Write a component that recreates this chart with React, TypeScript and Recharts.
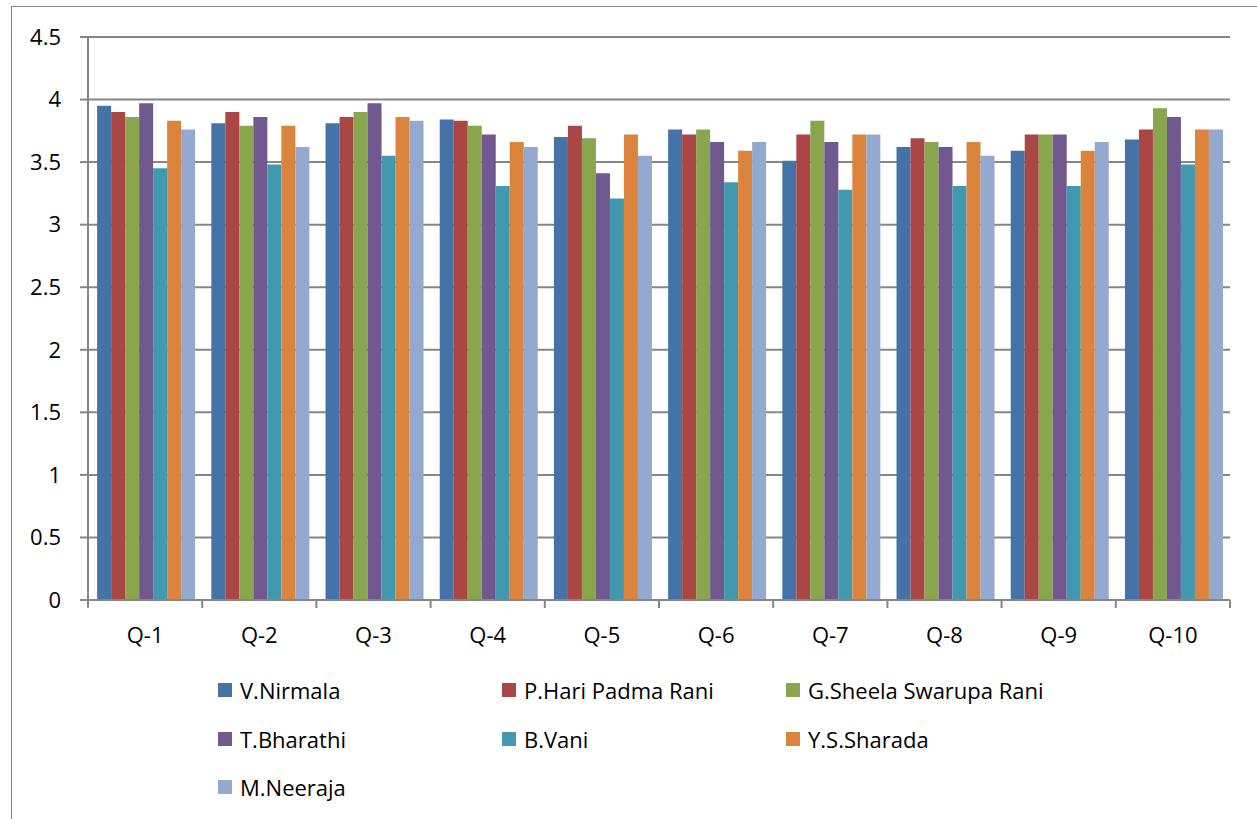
import React from 'react'
import { BarChart, Bar, XAxis, YAxis, CartesianGrid } from 'recharts'

const questions = ['Q-1', 'Q-2', 'Q-3', 'Q-4', 'Q-5', 'Q-6', 'Q-7', 'Q-8', 'Q-9', 'Q-10']

const nirmala = [3.95, 3.81, 3.81, 3.84, 3.7, 3.76, 3.51, 3.62, 3.59, 3.68]
const hariPadmaRani = [3.9, 3.9, 3.86, 3.83, 3.79, 3.72, 3.72, 3.69, 3.72, 3.76]
const sheelaSwarupaRani = [3.86, 3.79, 3.9, 3.79, 3.69, 3.76, 3.83, 3.66, 3.72, 3.93]
const bharathi = [3.97, 3.86, 3.97, 3.72, 3.41, 3.66, 3.66, 3.62, 3.72, 3.86]
const vani = [3.45, 3.48, 3.55, 3.31, 3.21, 3.34, 3.28, 3.31, 3.31, 3.48]
const sharada = [3.83, 3.79, 3.86, 3.66, 3.72, 3.59, 3.72, 3.66, 3.59, 3.76]
const neeraja = [3.76, 3.62, 3.83, 3.62, 3.55, 3.66, 3.72, 3.55, 3.66, 3.76]

const yTicks = [0, 0.5, 1, 1.5, 2, 2.5, 3, 3.5, 4, 4.5]

const series = [
  { key: 'nirmala', name: 'V.Nirmala', color: '#4572A7', values: nirmala },
  { key: 'hari', name: 'P.Hari Padma Rani', color: '#AA4643', values: hariPadmaRani },
  { key: 'sheela', name: 'G.Sheela Swarupa Rani', color: '#89A54E', values: sheelaSwarupaRani },
  { key: 'bharathi', name: 'T.Bharathi', color: '#71588F', values: bharathi },
  { key: 'vani', name: 'B.Vani', color: '#4198AF', values: vani },
  { key: 'sharada', name: 'Y.S.Sharada', color: '#DB843D', values: sharada },
  { key: 'neeraja', name: 'M.Neeraja', color: '#93A9CF', values: neeraja },
]

const data = questions.map((q, i) => {
  const row: Record<string, string | number> = { q }
  series.forEach((s) => {
    row[s.key] = s.values[i]
  })
  return row
})

const FONT = '"Open Sans", sans-serif'
const GRID = '#868686'
const PLOT_LEFT = 88
const PLOT_RIGHT = 1230
const band = (PLOT_RIGHT - PLOT_LEFT) / questions.length

function QTick(props: any) {
  const { x, y, payload, index } = props
  const left = x - band / 2
  return (
    <g>
      <line x1={left} x2={left} y1={y - 8} y2={y} stroke={GRID} strokeWidth={2} />
      {index === questions.length - 1 && (
        <line x1={left + band} x2={left + band} y1={y - 8} y2={y} stroke={GRID} strokeWidth={2} />
      )}
      <text x={x} y={y + 35} textAnchor="middle" fontFamily={FONT} fontSize={22} fill="#000">
        {payload.value}
      </text>
    </g>
  )
}

export default function App() {
  return (
    <div
      style={{
        position: 'absolute',
        left: 0,
        top: 0,
        width: 1257,
        height: 819,
        overflow: 'hidden',
        background: '#fff',
        fontFamily: FONT,
      }}
    >
      <div
        style={{
          position: 'absolute',
          left: 11,
          top: 6,
          width: 1400,
          height: 1000,
          border: '1.5px solid #868686',
        }}
      />
      <div style={{ position: 'absolute', left: 0, top: 0 }}>
        <BarChart
          width={1257}
          height={660}
          data={data}
          margin={{ top: 37, right: 1257 - PLOT_RIGHT, left: 0, bottom: 10 }}
          barCategoryGap="8%"
          barGap={0}
        >
          <CartesianGrid vertical={false} stroke={GRID} strokeWidth={2} />
          <XAxis
            dataKey="q"
            height={50}
            axisLine={{ stroke: GRID, strokeWidth: 2 }}
            tickLine={false}
            tick={<QTick />}
            interval={0}
          />
          <YAxis
            width={PLOT_LEFT}
            domain={[0, 4.5]}
            ticks={yTicks}
            interval={0}
            axisLine={{ stroke: GRID, strokeWidth: 2 }}
            tickLine={{ stroke: GRID, strokeWidth: 2 }}
            tickSize={8}
            tickMargin={19}
            tick={{ fill: '#000', fontSize: 22, fontFamily: FONT }}
          />
          {series.map((s) => (
            <Bar key={s.key} dataKey={s.key} name={s.name} fill={s.color} isAnimationActive={false} />
          ))}
        </BarChart>
      </div>
      {series.map((s, i) => {
        const col = i % 3
        const row = Math.floor(i / 3)
        const lefts = [218, 502, 786]
        const tops = [690, 739, 787]
        return (
          <div
            key={s.key}
            style={{
              position: 'absolute',
              left: lefts[col],
              top: tops[row] - 15,
              height: 30,
              display: 'flex',
              alignItems: 'center',
              whiteSpace: 'nowrap',
              fontSize: 22,
              color: '#000',
            }}
          >
            <span style={{ width: 14, height: 14, background: s.color, display: 'inline-block', marginRight: 8 }} />
            <span>{s.name}</span>
          </div>
        )
      })}
    </div>
  )
}
